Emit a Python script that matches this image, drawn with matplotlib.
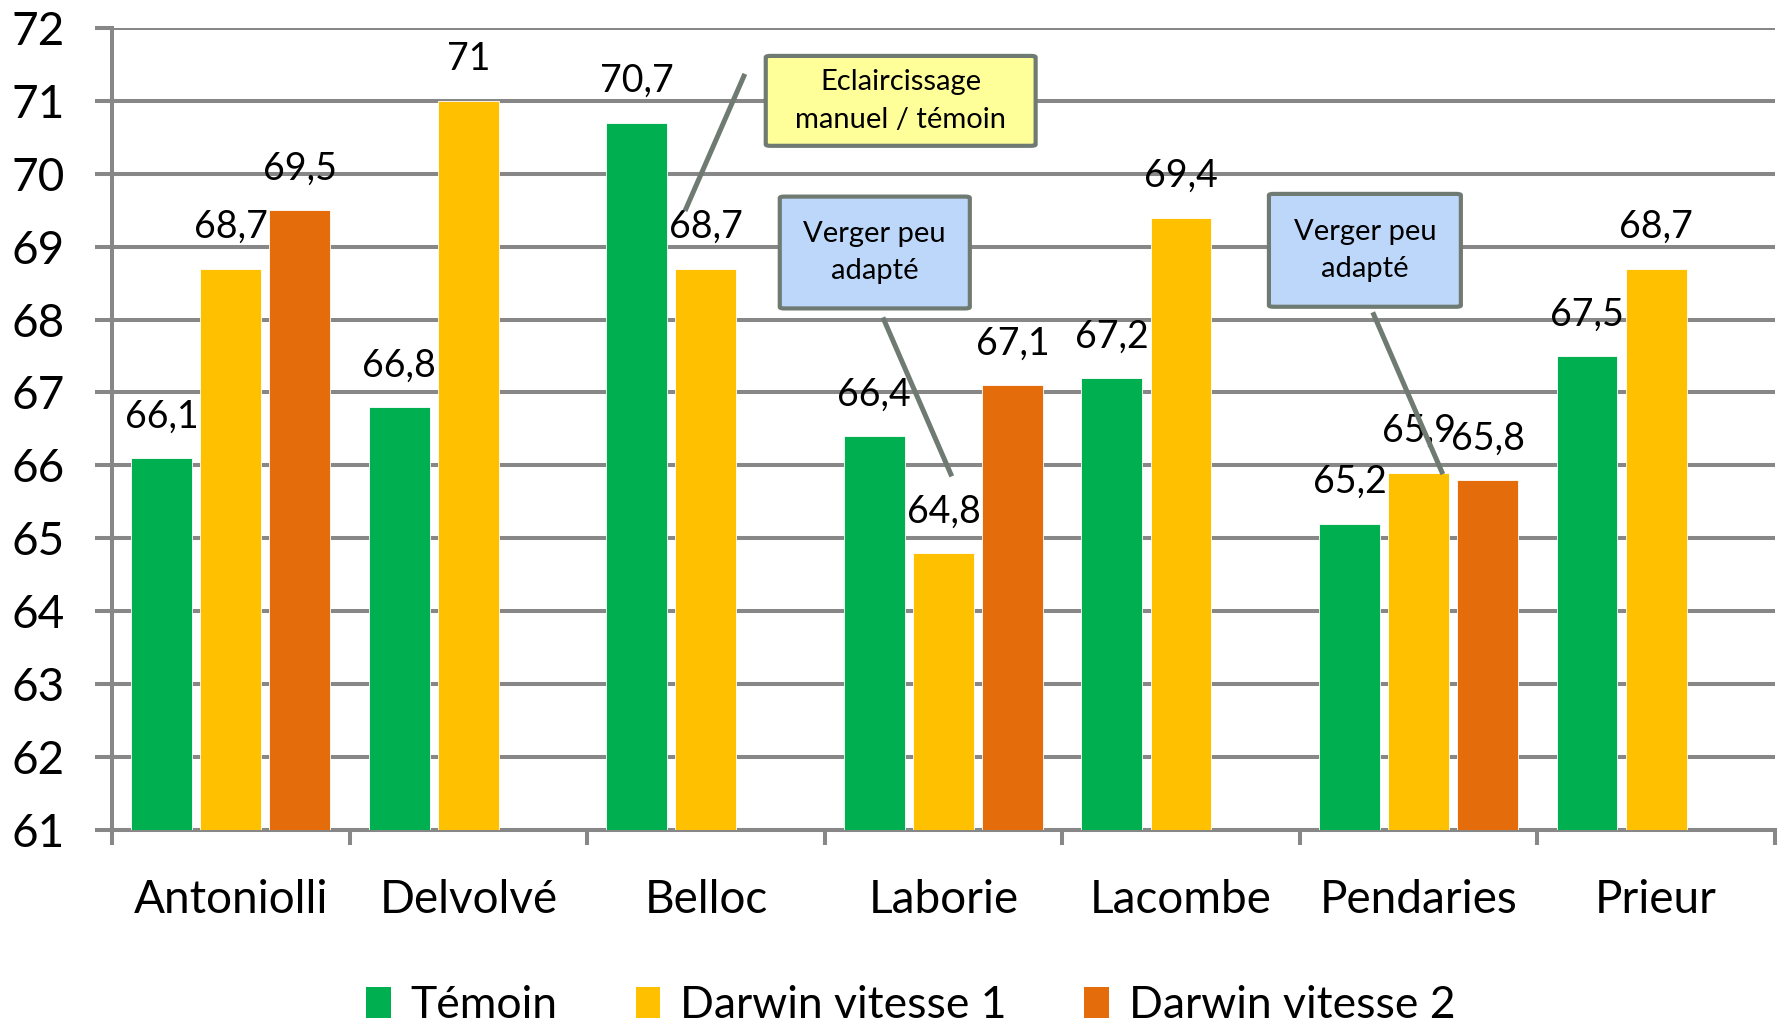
import matplotlib.pyplot as plt
import numpy as np
from matplotlib.patches import FancyBboxPatch, Patch

plt.rcParams['font.family'] = ['Lato', 'DejaVu Sans']

# data
vergers = ['Antoniolli', 'Delvolvé', 'Belloc', 'Laborie', 'Lacombe', 'Pendaries', 'Prieur']
temoin = [66.1, 66.8, 70.7, 66.4, 67.2, 65.2, 67.5]
darwin_v1 = [68.7, 71.0, 68.7, 64.8, 69.4, 65.9, 68.7]
darwin_v2 = [69.5, np.nan, np.nan, 67.1, np.nan, 65.8, np.nan]
series_names = ['Témoin', 'Darwin vitesse 1', 'Darwin vitesse 2']
series_colors = ['#00B050', '#FFC000', '#E46C0A']

grey = '#878787'
callout_edge = '#6F7B72'

fig = plt.figure(figsize=(17.86, 10.24), dpi=100)
ax = fig.add_axes([0.0627, 0.1895, 0.9311, 0.7832])

x = np.arange(len(vergers))
offsets = [-0.291, 0.0, 0.291]
width = 0.256
for vals, off, col in zip([temoin, darwin_v1, darwin_v2], offsets, series_colors):
    vals = np.array(vals, dtype=float)
    ok = ~np.isnan(vals)
    ax.bar(x[ok] + off, vals[ok] - 61, width, bottom=61, color=col,
           edgecolor='white', linewidth=0.6, zorder=3)
    for xi, v in zip(x[ok] + off, vals[ok]):
        txt = ('%g' % v).replace('.', ',')
        ax.annotate(txt, (xi, v), xytext=(0, 22), textcoords='offset points',
                    ha='center', va='baseline', fontsize=27, zorder=4)

ax.set_xlim(-0.5, len(vergers) - 0.5)
ax.set_ylim(61, 72)
ax.set_yticks(np.arange(61, 73))
ax.yaxis.grid(True, color=grey, linewidth=2.9, zorder=0)
ax.set_axisbelow(True)
ax.tick_params(axis='y', length=12, width=2.9, color=grey, pad=22, labelsize=33)

ax.set_xticks(np.arange(-0.5, len(vergers)))
ax.set_xticklabels([])
ax.set_xticks(x, minor=True)
ax.set_xticklabels(vergers, minor=True)
ax.tick_params(axis='x', which='major', length=11, width=2.9, color=grey)
ax.tick_params(axis='x', which='minor', length=0, pad=35, labelsize=33)

for s in ['top', 'right']:
    ax.spines[s].set_visible(False)
for s in ['left', 'bottom']:
    ax.spines[s].set_color(grey)
    ax.spines[s].set_linewidth(2.9)
    ax.spines[s].set_zorder(1)


def callout(cx, cy, w, h, text, face, line):
    ax.plot(line[0], line[1], color=callout_edge, linewidth=3.6, zorder=6,
            solid_capstyle='butt')
    box = FancyBboxPatch((cx - w / 2, cy - h / 2), w, h,
                         boxstyle='round,pad=0,rounding_size=0.02',
                         facecolor=face, edgecolor=callout_edge, linewidth=3,
                         zorder=7, mutation_aspect=1)
    ax.add_patch(box)
    ax.text(cx, cy, text, ha='center', va='center', fontsize=21,
            linespacing=1.55, zorder=8)


callout(2.82, 71.0, 1.136, 1.233, 'Eclaircissage\nmanuel / témoin', '#FFFF99',
        ([2.164, 1.912], [71.37, 69.49]))
callout(2.711, 68.92, 0.80, 1.534, 'Verger peu\nadapté', '#BDD7FB',
        ([2.745, 3.035], [68.03, 65.85]))
callout(4.774, 68.95, 0.808, 1.548, 'Verger peu\nadapté', '#BDD7FB',
        ([4.807, 5.102], [68.10, 65.88]))

handles = [Patch(facecolor=c, edgecolor='none') for c in series_colors]
fig.legend(handles, series_names, loc='center', bbox_to_anchor=(0.51, 0.018),
           ncol=3, frameon=False, fontsize=32, handlelength=0.55,
           handleheight=0.7, handletextpad=0.45, columnspacing=1.75)

plt.savefig('out.png', dpi=100)
